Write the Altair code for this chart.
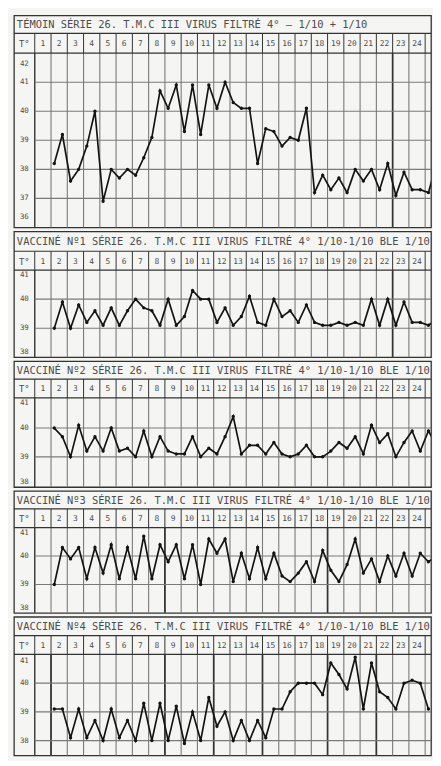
import altair as alt
import pandas as pd

# ---------------- data ----------------
TITLES = [
    "TÉMOIN  SÉRIE 26. T.M.C III  VIRUS FILTRÉ  4° — 1/10 + 1/10",
    "VACCINÉ Nº1  SÉRIE 26. T.M.C III  VIRUS FILTRÉ  4° 1/10-1/10 BLE 1/10",
    "VACCINÉ Nº2  SÉRIE 26. T.M.C III  VIRUS FILTRÉ  4° 1/10-1/10 BLE 1/10",
    "VACCINÉ Nº3  SÉRIE 26. T.M.C III  VIRUS FILTRÉ  4° 1/10-1/10 BLE 1/10",
    "VACCINÉ Nº4  SÉRIE 26. T.M.C III  VIRUS FILTRÉ  4° 1/10-1/10 BLE 1/10",
]
DAY_LABELS = [str(d) for d in range(1, 25)]

P1 = [38.2, 39.2, 37.6, 38.0, 38.8, 40.0, 36.9, 38.0, 37.7, 38.0, 37.8, 38.4,
      39.1, 40.7, 40.1, 40.9, 39.3, 40.9, 39.2, 40.9, 40.1, 41.0, 40.3, 40.1,
      40.1, 38.2, 39.4, 39.3, 38.8, 39.1, 39.0, 40.1, 37.2, 37.8, 37.3, 37.7,
      37.2, 38.0, 37.6, 38.0, 37.3, 38.2, 37.1, 37.9, 37.3, 37.3, 37.2, 38.2]
P2 = [39.0, 39.9, 39.0, 39.8, 39.2, 39.6, 39.1, 39.7, 39.1, 39.6, 40.0, 39.7,
      39.6, 39.1, 40.0, 39.1, 39.4, 40.3, 40.0, 40.0, 39.2, 39.7, 39.1, 39.4,
      40.1, 39.2, 39.1, 40.0, 39.4, 39.6, 39.2, 39.8, 39.2, 39.1, 39.1, 39.2,
      39.1, 39.2, 39.1, 40.0, 39.1, 40.0, 39.1, 39.9, 39.2, 39.2, 39.1, 39.3]
P3 = [40.0, 39.7, 39.0, 40.1, 39.2, 39.7, 39.2, 40.0, 39.2, 39.3, 39.0, 39.9,
      39.0, 39.7, 39.2, 39.1, 39.1, 39.7, 39.0, 39.3, 39.1, 39.7, 40.4, 39.1,
      39.4, 39.4, 39.1, 39.5, 39.1, 39.0, 39.1, 39.4, 39.0, 39.0, 39.2, 39.5,
      39.3, 39.7, 39.1, 40.1, 39.5, 39.8, 39.0, 39.5, 39.9, 39.2, 39.9, 39.4]
P4 = [39.0, 40.3, 39.9, 40.3, 39.2, 40.3, 39.4, 40.4, 39.2, 40.3, 39.2, 40.7,
      39.2, 40.4, 39.8, 40.4, 39.2, 40.4, 39.0, 40.6, 40.1, 40.6, 39.1, 40.1,
      39.2, 40.3, 39.2, 40.1, 39.3, 39.1, 39.4, 39.8, 39.1, 40.2, 39.5, 39.1,
      39.7, 40.6, 39.4, 39.9, 39.1, 40.0, 39.3, 40.1, 39.3, 40.1, 39.8, 40.0]
P5 = [39.1, 39.1, 38.1, 39.1, 38.1, 38.7, 38.0, 39.1, 38.1, 38.7, 38.0, 39.3,
      38.0, 39.3, 38.0, 39.2, 37.9, 39.0, 38.0, 39.5, 38.5, 39.0, 38.0, 38.7,
      38.0, 38.7, 38.1, 39.1, 39.1, 39.7, 40.0, 40.0, 40.0, 39.6, 40.7, 40.3,
      39.8, 40.9, 39.1, 40.7, 39.7, 39.5, 39.1, 40.0, 40.1, 40.0, 39.1]
SERIES = [P1, P2, P3, P4, P5]

Y_RANGES = [(36, 42), (38, 41), (37.95, 41.05), (38, 41), (37.48, 41)]
Y_LABELS = [[36, 37, 38, 39, 40, 41, 42], [38, 39, 40, 41], [38, 39, 40, 41],
            [38, 39, 40, 41], [38, 39, 40, 41]]
Y_GRID = [[37, 38, 39, 40, 41], [39, 40], [39, 40], [39, 40], [38, 39, 40]]
HEAVY_DAYS = [[22], [22], [], [8, 18], [1, 8, 11, 14, 18, 21]]
FIRST_READING_DAY = 1.2   # first reading of day 1; two readings per day

# ---------------- layout / style ----------------
W = 421
XDOM = [-1.28, 24.36]
ROWS = [(18, 20, 176), (20, 19, 88), (18, 19, 90), (18, 19, 86), (19, 19, 102)]
FONT = "DejaVu Sans Mono"
GRID = "#7a7a7a"
DARK = "#333333"
INK = "#4d4d4d"
LINE = "#141414"

xs = alt.Scale(domain=XDOM, nice=False, zero=False)


def X(f):
    return alt.X(f, type="quantitative", scale=xs, axis=None)


def panel(i):
    th, dh, ph = ROWS[i]
    ymin, ymax = Y_RANGES[i]
    k = ph / (ymax - ymin)            # pixels per degree
    day_top = ymax + dh / k
    top = day_top + th / k
    ys = alt.Scale(domain=[ymin, top], nice=False, zero=False)

    def Y(f):
        return alt.Y(f, type="quantitative", scale=ys, axis=None)

    layers = []
    vg = pd.DataFrame({"d": list(range(1, 25)), "y0": ymin, "y1": ymax})
    layers.append(alt.Chart(vg).mark_rule(color=GRID, strokeWidth=1.1).encode(
        x=X("d"), y=Y("y0"), y2="y1"))
    if HEAVY_DAYS[i]:
        hv = pd.DataFrame({"d": HEAVY_DAYS[i], "y0": ymin, "y1": ymax})
        layers.append(alt.Chart(hv).mark_rule(color=DARK, strokeWidth=1.7).encode(
            x=X("d"), y=Y("y0"), y2="y1"))
    dv = pd.DataFrame({"d": list(range(0, 25)), "y0": ymax, "y1": day_top})
    layers.append(alt.Chart(dv).mark_rule(color=DARK, strokeWidth=1).encode(
        x=X("d"), y=Y("y0"), y2="y1"))
    lc = pd.DataFrame({"d": [0], "y0": [ymin], "y1": [ymax]})
    layers.append(alt.Chart(lc).mark_rule(color=DARK, strokeWidth=1.4).encode(
        x=X("d"), y=Y("y0"), y2="y1"))
    hg = pd.DataFrame({"v": Y_GRID[i], "x0": 0, "x1": XDOM[1]})
    layers.append(alt.Chart(hg).mark_rule(color=GRID, strokeWidth=1.1).encode(
        x=X("x0"), x2="x1", y=Y("v")))
    sp = pd.DataFrame({"v": [ymax, day_top], "x0": XDOM[0], "x1": XDOM[1]})
    layers.append(alt.Chart(sp).mark_rule(color=DARK, strokeWidth=1.2).encode(
        x=X("x0"), x2="x1", y=Y("v")))
    span = ymax - ymin
    lab_y = [min(max(t, ymin + 0.06 * span), ymax - 0.06 * span) for t in Y_LABELS[i]]
    lab = pd.DataFrame({"x": -0.64, "y": lab_y, "t": [str(t) for t in Y_LABELS[i]]})
    layers.append(alt.Chart(lab).mark_text(font=FONT, fontSize=7.5, color=INK, baseline="middle").encode(
        x=X("x"), y=Y("y"), text="t:N"))
    dl = pd.DataFrame({"x": [d - 0.5 for d in range(1, 25)], "y": (ymax + day_top) / 2, "t": DAY_LABELS})
    layers.append(alt.Chart(dl).mark_text(font=FONT, fontSize=8, color=INK, baseline="middle", dy=1).encode(
        x=X("x"), y=Y("y"), text="t:N"))
    tc = pd.DataFrame({"x": [-0.64], "y": [(ymax + day_top) / 2], "t": ["T°"]})
    layers.append(alt.Chart(tc).mark_text(font=FONT, fontSize=9, color=INK, baseline="middle", dy=1).encode(
        x=X("x"), y=Y("y"), text="t:N"))
    tt = pd.DataFrame({"x": [-1.1], "y": [(day_top + top) / 2], "t": [TITLES[i]]})
    layers.append(alt.Chart(tt).mark_text(font=FONT, fontSize=10.5, color=INK, baseline="middle",
                                          align="left", dy=1, clip=True).encode(
        x=X("x"), y=Y("y"), text="t:N"))
    df = pd.DataFrame({"t": [FIRST_READING_DAY + 0.5 * j for j in range(len(SERIES[i]))], "v": SERIES[i]})
    layers.append(alt.Chart(df).mark_line(
        color=LINE, strokeWidth=1.7, clip=True,
        point=alt.OverlayMarkDef(filled=True, size=12, color=LINE, clip=True)
    ).encode(x=X("t"), y=Y("v")))
    return alt.layer(*layers).properties(width=W, height=th + dh + ph)


chart = alt.vconcat(*[panel(i) for i in range(5)], spacing=1).properties(
    padding={"left": 4, "top": 3, "right": 0, "bottom": 0},
    background="#f5f5f3",
).configure_view(stroke=DARK, strokeWidth=1.3)

chart.save("out.html", embed_options={"renderer": "svg", "actions": False})
